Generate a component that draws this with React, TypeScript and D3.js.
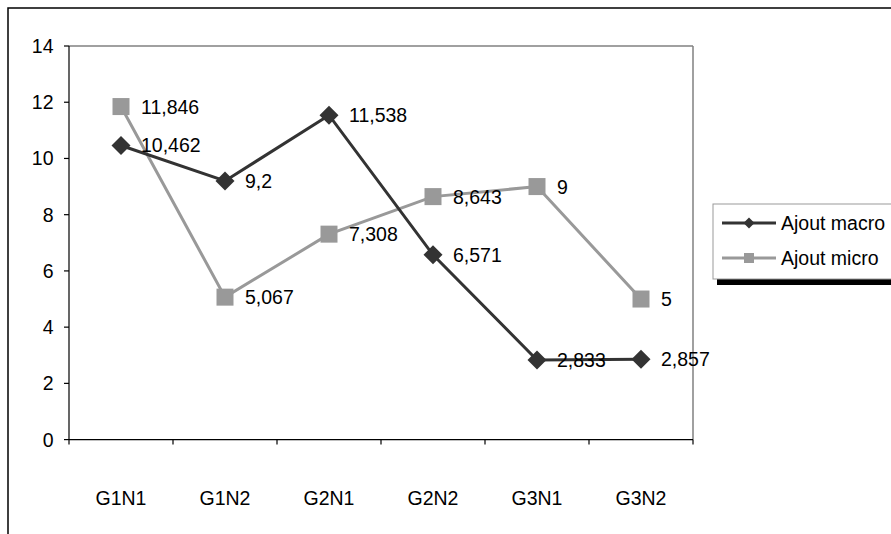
import React from "react";
import * as d3 from "d3";

const categories = ["G1N1", "G1N2", "G2N1", "G2N2", "G3N1", "G3N2"];
const macroValues = [10.462, 9.2, 11.538, 6.571, 2.833, 2.857];
const microValues = [11.846, 5.067, 7.308, 8.643, 9, 5];
const macroLabels = ["10,462", "9,2", "11,538", "6,571", "2,833", "2,857"];
const microLabels = ["11,846", "5,067", "7,308", "8,643", "9", "5"];
const yTicks = [0, 2, 4, 6, 8, 10, 12, 14];
const seriesNames = ["Ajout macro", "Ajout micro"];

const FONT = "'Liberation Sans', Arial, sans-serif";
const FS = 19.5;
const DARK = "#333333";
const GRAY = "#999999";

export default function App() {
  const W = 891, H = 534;
  const left = 69, right = 693, top = 46, bottom = 439.6;
  const x = d3.scaleBand<string>().domain(categories).range([left, right]);
  const y = d3.scaleLinear().domain([0, 14]).range([bottom, top]);
  const cx = (c: string) => (x(c) as number) + x.bandwidth() / 2;
  const line = d3.line<[number, number]>().x(d => d[0]).y(d => d[1]);

  const macroPts: [number, number][] = categories.map((c, i) => [cx(c), y(macroValues[i])]);
  const microPts: [number, number][] = categories.map((c, i) => [cx(c), y(microValues[i])]);

  const diamond = (px: number, py: number, r: number) =>
    `M${px},${py - r}L${px + r},${py}L${px},${py + r}L${px - r},${py}Z`;

  const tickXs = [...categories.map(c => x(c) as number), right];

  return (
    <svg width={W} height={H} style={{ position: "absolute", left: 0, top: 0, background: "#fff" }}
      fontFamily={FONT}>
      {/* outer chart frame */}
      <rect x={8} y={8} width={W + 20} height={H + 20} fill="#fff" stroke="#000" strokeWidth={1.5} />
      {/* plot area border */}
      <line x1={left} y1={top} x2={right} y2={top} stroke="#808080" strokeWidth={1.5} />
      <line x1={right} y1={top} x2={right} y2={bottom} stroke="#808080" strokeWidth={1.5} />
      {/* y axis */}
      <line x1={left} y1={top} x2={left} y2={bottom} stroke="#000" strokeWidth={1.2} />
      {yTicks.map(t => (
        <g key={t}>
          <line x1={left - 5} x2={left} y1={y(t)} y2={y(t)} stroke="#000" strokeWidth={1.2} />
          <text x={53.5} y={y(t)} textAnchor="end" dominantBaseline="central" fontSize={FS} fill="#000">{t}</text>
        </g>
      ))}
      {/* x axis */}
      <line x1={left} y1={bottom} x2={right} y2={bottom} stroke="#000" strokeWidth={1.2} />
      {tickXs.map((tx, i) => (
        <line key={i} x1={tx} x2={tx} y1={bottom} y2={bottom + 5} stroke="#000" strokeWidth={1.2} />
      ))}
      {categories.map(c => (
        <text key={c} x={cx(c)} y={498} textAnchor="middle" dominantBaseline="central" fontSize={FS} fill="#000">{c}</text>
      ))}
      {/* micro series */}
      <path d={line(microPts) || ""} fill="none" stroke={GRAY} strokeWidth={3} />
      {/* macro series */}
      <path d={line(macroPts) || ""} fill="none" stroke={DARK} strokeWidth={3} />
      {macroPts.map((p, i) => (
        <path key={"md" + i} d={diamond(p[0], p[1], 9.5)} fill={DARK} />
      ))}
      {microPts.map((p, i) => (
        <rect key={"ms" + i} x={p[0] - 8.5} y={p[1] - 8.5} width={17} height={17} fill={GRAY} />
      ))}
      {/* labels */}
      {macroPts.map((p, i) => (
        <text key={"ml" + i} x={p[0] + 20} y={p[1]} dominantBaseline="central" fontSize={FS} fill="#000">{macroLabels[i]}</text>
      ))}
      {microPts.map((p, i) => (
        <text key={"mil" + i} x={p[0] + 20} y={p[1]} dominantBaseline="central" fontSize={FS} fill="#000">{microLabels[i]}</text>
      ))}
      {/* legend */}
      <rect x={717} y={279} width={200} height={6} fill="#000" />
      <rect x={713} y={204} width={200} height={75} fill="#fff" stroke="#999" strokeWidth={1} />
      {seriesNames.map((s, i) => {
        const ly = 223 + i * 35;
        const col = i === 0 ? DARK : GRAY;
        return (
          <g key={s}>
            <line x1={722} x2={776} y1={ly} y2={ly} stroke={col} strokeWidth={3} />
            {i === 0 ? (
              <path d={diamond(749, ly, 5.5)} fill={col} />
            ) : (
              <rect x={744} y={ly - 5} width={10} height={10} fill={col} />
            )}
            <text x={781} y={ly} dominantBaseline="central" fontSize={FS} fill="#000">{s}</text>
          </g>
        );
      })}
    </svg>
  );
}
